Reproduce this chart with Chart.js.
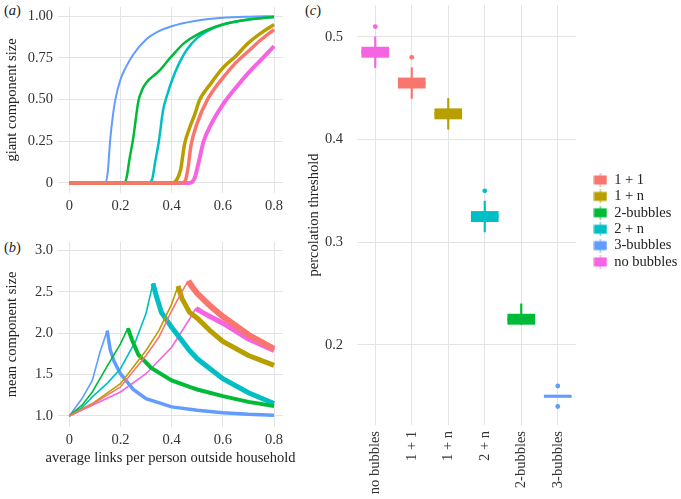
<!DOCTYPE html>
<html>
<head>
<meta charset="utf-8">
<script src="https://cdn.jsdelivr.net/npm/chart.js@4.4.1/dist/chart.umd.min.js"></script>
<style>
  body { margin: 0; background: #fff; width: 681px; height: 499px; position: relative; overflow: hidden; }
  canvas { position: absolute; }
  .lab { position: absolute; font: 14.5px 'Liberation Serif', serif; color: #222; }
</style>
</head>
<body>
<div class="lab" style="left:4px;top:2px">(<i>a</i>)</div>
<div class="lab" style="left:4px;top:239px">(<i>b</i>)</div>
<div class="lab" style="left:305px;top:2px">(<i>c</i>)</div>
<canvas id="ca" width="295" height="215" style="left:0;top:0"></canvas>
<canvas id="cb" width="320" height="245" style="left:0;top:225px"></canvas>
<canvas id="cc" width="381" height="499" style="left:300px;top:0"></canvas>
<script>
// series, in legend order
var seriesNames  = ['1 + 1', '1 + n', '2-bubbles', '2 + n', '3-bubbles', 'no bubbles'];
var seriesColors = ['#F8766D', '#B79F00', '#00BA38', '#00BFC4', '#619CFF', '#F564E3'];

var xTicks      = [0, 0.2, 0.4, 0.6, 0.8];
var giantTicks  = [0, 0.25, 0.5, 0.75, 1];
var meanTicks   = [1, 1.5, 2, 2.5, 3];
var threshTicks = [0.2, 0.3, 0.4, 0.5];

// (a) giant component size, [links, size]
var giant11 = [[0,0],[0.44,0],[0.455,0.02],[0.465,0.1],[0.475,0.22],[0.5,0.36],[0.54,0.5],[0.6,0.63],[0.65,0.72],[0.7,0.79],[0.75,0.86],[0.8,0.92]];
var giant1n = [[0,0],[0.4,0],[0.42,0.02],[0.435,0.08],[0.45,0.23],[0.47,0.33],[0.49,0.41],[0.51,0.5],[0.55,0.59],[0.6,0.69],[0.65,0.76],[0.7,0.84],[0.75,0.9],[0.8,0.95]];
var giant2b = [[0,0],[0.215,0],[0.225,0.04],[0.235,0.14],[0.25,0.27],[0.27,0.49],[0.285,0.56],[0.3,0.6],[0.35,0.67],[0.4,0.76],[0.45,0.84],[0.5,0.89],[0.6,0.95],[0.7,0.98],[0.8,0.995]];
var giant2n = [[0,0],[0.31,0],[0.325,0.03],[0.335,0.12],[0.35,0.25],[0.367,0.44],[0.385,0.54],[0.4,0.61],[0.43,0.72],[0.46,0.8],[0.5,0.87],[0.55,0.92],[0.6,0.95],[0.7,0.98],[0.8,0.995]];
var giant3b = [[0,0],[0.14,0],[0.15,0.06],[0.16,0.26],[0.17,0.4],[0.18,0.5],[0.2,0.62],[0.22,0.69],[0.25,0.77],[0.3,0.86],[0.35,0.91],[0.4,0.94],[0.485,0.97],[0.6,0.99],[0.7,0.997],[0.8,1]];
var giantNo = [[0,0],[0.47,0],[0.49,0.03],[0.505,0.12],[0.525,0.25],[0.55,0.34],[0.6,0.47],[0.65,0.57],[0.7,0.66],[0.75,0.74],[0.8,0.82]];

// (b) mean component size, [links, size]
var mean11 = [[0,1],[0.09,1.14],[0.2,1.35],[0.3,1.73],[0.35,1.95],[0.4,2.27],[0.44,2.5],[0.465,2.63],[0.48,2.56],[0.5,2.48],[0.55,2.33],[0.6,2.2],[0.7,1.98],[0.8,1.81]];
var mean1n = [[0,1],[0.09,1.15],[0.2,1.39],[0.3,1.79],[0.35,2.03],[0.4,2.35],[0.425,2.57],[0.44,2.42],[0.47,2.25],[0.5,2.18],[0.55,2.03],[0.6,1.9],[0.7,1.73],[0.8,1.61]];
var mean2b = [[0,1],[0.05,1.13],[0.09,1.29],[0.15,1.61],[0.2,1.87],[0.229,2.06],[0.245,1.92],[0.27,1.74],[0.32,1.58],[0.4,1.43],[0.47,1.35],[0.5,1.32],[0.6,1.24],[0.7,1.17],[0.8,1.12]];
var mean2n = [[0,1],[0.05,1.1],[0.09,1.23],[0.15,1.4],[0.2,1.57],[0.26,1.91],[0.3,2.24],[0.327,2.6],[0.34,2.45],[0.36,2.25],[0.4,2.07],[0.47,1.79],[0.5,1.69],[0.6,1.45],[0.7,1.28],[0.8,1.15]];
var mean3b = [[0,1],[0.05,1.21],[0.09,1.43],[0.12,1.77],[0.148,2.03],[0.16,1.8],[0.175,1.66],[0.2,1.51],[0.25,1.32],[0.3,1.21],[0.4,1.11],[0.5,1.07],[0.6,1.04],[0.7,1.02],[0.8,1.01]];
var meanNo = [[0,1],[0.09,1.13],[0.2,1.29],[0.3,1.51],[0.4,1.83],[0.47,2.17],[0.495,2.3],[0.52,2.25],[0.55,2.2],[0.6,2.12],[0.7,1.93],[0.8,1.79]];

// (c) percolation threshold boxplots
var boxCats   = ['no bubbles', '1 + 1', '1 + n', '2 + n', '2-bubbles', '3-bubbles'];
var boxLow    = [0.47, 0.44, 0.41, 0.31, 0.22, 0.15];
var boxQ1     = [0.48, 0.45, 0.42, 0.32, 0.22, 0.15];
var boxMedian = [0.485, 0.455, 0.425, 0.325, 0.225, 0.15];
var boxQ3     = [0.49, 0.46, 0.43, 0.33, 0.23, 0.15];
var boxHigh   = [0.50, 0.47, 0.44, 0.34, 0.24, 0.15];
var outlierCat = ['no bubbles', '1 + 1', '2 + n', '3-bubbles', '3-bubbles'];
var outlierVal = [0.51, 0.48, 0.35, 0.16, 0.14];

var GRID = '#e3e3e3';
var FONT = "'Liberation Serif', 'Times New Roman', serif";
Chart.defaults.font.family = FONT;
Chart.defaults.font.size = 14.5;
Chart.defaults.color = '#333';
Chart.defaults.animation = false;
Chart.defaults.plugins.tooltip.enabled = false;

function colorOf(name){
  return seriesColors[seriesNames.indexOf(name)];
}

function fixTicks(list){
  return function(s){ s.ticks = list.map(function(v){ return {value: v}; }); };
}

// fixed axis box, no extra label padding
function fitTo(prop, size){
  return function(s){
    s[prop] = size;
    s.paddingLeft = 0; s.paddingRight = 0; s.paddingTop = 0; s.paddingBottom = 0;
  };
}

function xAxis(height){
  return {
    type: 'linear', min: -0.044, max: 0.835,
    border: {display: false},
    grid: {color: GRID, drawTicks: false},
    ticks: {padding: 4, callback: function(v){ return v === 0 ? '0' : String(v); }},
    afterBuildTicks: fixTicks(xTicks),
    afterFit: fitTo('height', height)
  };
}

function yAxis(min, max, list, fmt, title, pad, width){
  return {
    min: min, max: max,
    border: {display: false},
    grid: {color: GRID, drawTicks: false},
    ticks: {padding: 5, callback: fmt},
    afterBuildTicks: fixTicks(list),
    afterFit: fitTo('width', width),
    title: {display: true, text: title, color: '#222', padding: {top: pad, bottom: 0}}
  };
}

// x title wider than the panel, so it is drawn here instead of squeezed by the scale
var xTitle = {
  id: 'xTitle',
  afterDraw: function(chart, args, opts){
    var ctx = chart.ctx, ca = chart.chartArea;
    ctx.save();
    ctx.font = '14.5px ' + FONT;
    ctx.fillStyle = '#222';
    ctx.textAlign = 'center';
    ctx.textBaseline = 'middle';
    ctx.fillText(opts.text, (ca.left + ca.right) / 2, ca.bottom + opts.offset);
    ctx.restore();
  }
};

function toXY(arr){
  return arr.map(function(p){ return {x: p[0], y: p[1]}; });
}

// (a)
var giantData = [giant11, giant1n, giant2b, giant2n, giant3b, giantNo];
var giantWidth = [3.5, 3.5, 2.5, 2.5, 2, 4];
new Chart(document.getElementById('ca'), {
  type: 'line',
  data: {
    datasets: giantData.map(function(d, i){
      return {
        label: seriesNames[i], data: toXY(d),
        borderColor: seriesColors[i], borderWidth: giantWidth[i],
        pointRadius: 0, cubicInterpolationMode: 'monotone', fill: false
      };
    })
  },
  options: {
    responsive: false,
    layout: {padding: {top: 7, right: 12, left: 0, bottom: 0}},
    plugins: {legend: {display: false}},
    scales: {
      x: xAxis(22),
      y: yAxis(-0.06, 1.055, giantTicks, function(v){ return v === 0 ? '0' : v.toFixed(2); }, 'giant component size', 3, 58)
    }
  }
});

// (b)
var meanData = [mean11, mean1n, mean2b, mean2n, mean3b, meanNo];
var meanBand = [6, 5, 4, 5, 3.5, 5];
new Chart(document.getElementById('cb'), {
  type: 'line',
  data: {
    datasets: meanData.map(function(d, i){
      var peak = 0;
      d.forEach(function(p, k){ if (p[1] > d[peak][1]) peak = k; });
      var peakX = d[peak][0];
      return {
        label: seriesNames[i], data: toXY(d),
        borderColor: seriesColors[i], borderWidth: 1.5,
        segment: { borderWidth: function(ctx){ return ctx.p0.parsed.x >= peakX ? meanBand[i] : 1.6; } },
        pointRadius: 0, tension: 0, fill: false
      };
    })
  },
  options: {
    responsive: false,
    layout: {padding: {top: 17, right: 37, left: 0, bottom: 0}},
    plugins: {
      legend: {display: false},
      xTitle: {text: 'average links per person outside household', offset: 31}
    },
    scales: {
      x: xAxis(43),
      y: yAxis(0.867, 3.10, meanTicks, function(v){ return v.toFixed(1); }, 'mean component size', 3, 58)
    }
  },
  plugins: [xTitle]
});

// (c)
function keyGlyph(color){
  var c = document.createElement('canvas');
  c.width = 14; c.height = 14;
  var g = c.getContext('2d');
  g.fillStyle = color;
  g.globalAlpha = 0.6;
  g.fillRect(6.25, 0, 1.5, 14);
  g.globalAlpha = 1;
  g.fillRect(0.5, 2.5, 13, 9);
  return c;
}

// legend sits a little apart from the panel, as in ggplot
var legendPlace = {
  id: 'legendPlace',
  afterLayout: function(chart){
    var lg = chart.legend;
    if (!lg) return;
    var dx = 292 - lg.left;
    var dy = 221 - (lg.top + lg.bottom) / 2;
    lg.left += dx; lg.right += dx;
    lg.top += dy; lg.bottom += dy;
  }
};

var catColors = boxCats.map(colorOf);
new Chart(document.getElementById('cc'), {
  type: 'bar',
  data: {
    labels: boxCats,
    datasets: [
      {
        type: 'scatter', label: 'outliers', order: 0,
        data: outlierCat.map(function(c, i){ return {x: c, y: outlierVal[i]}; }),
        pointRadius: 2.4, pointBorderWidth: 0,
        pointBackgroundColor: outlierCat.map(colorOf)
      },
      {
        label: 'median', order: 0, grouped: false, barThickness: 27,
        data: boxMedian.map(function(m){ return [m - 0.0012, m + 0.0012]; }),
        backgroundColor: catColors
      },
      {
        label: 'box', order: 1, grouped: false, barThickness: 27,
        data: boxQ1.map(function(q, i){ return [q, boxQ3[i]]; }),
        backgroundColor: catColors
      },
      {
        label: 'whisker', order: 2, grouped: false, barThickness: 1.5,
        data: boxLow.map(function(l, i){ return [l, boxHigh[i]]; }),
        backgroundColor: catColors
      }
    ]
  },
  options: {
    responsive: false,
    layout: {padding: {top: 5, right: 13, left: 0, bottom: 0}},
    plugins: {
      legend: {
        display: true, position: 'right', align: 'center',
        labels: {
          usePointStyle: true, boxWidth: 13, boxHeight: 13, padding: 1.9, color: '#222',
          generateLabels: function(){
            return seriesNames.map(function(n, i){
              return {text: n, fillStyle: seriesColors[i], strokeStyle: seriesColors[i], lineWidth: 0,
                      pointStyle: keyGlyph(seriesColors[i]), hidden: false, datasetIndex: 0, fontColor: '#222'};
            });
          }
        }
      }
    },
    scales: {
      x: {
        type: 'category', offset: true,
        border: {display: false},
        grid: {color: GRID, drawTicks: false, offset: false},
        ticks: {padding: 6, minRotation: 90, maxRotation: 90, autoSkip: false},
        afterFit: fitTo('height', 74)
      },
      y: {
        min: 0.122, max: 0.531,
        border: {display: false},
        grid: {color: GRID, drawTicks: false},
        ticks: {padding: 14, callback: function(v){ return v.toFixed(1); }},
        afterBuildTicks: fixTicks(threshTicks),
        afterFit: fitTo('width', 57),
        title: {display: true, text: 'percolation threshold', color: '#222', padding: {top: 5, bottom: 0}}
      }
    }
  },
  plugins: [legendPlace]
});
</script>
</body>
</html>
